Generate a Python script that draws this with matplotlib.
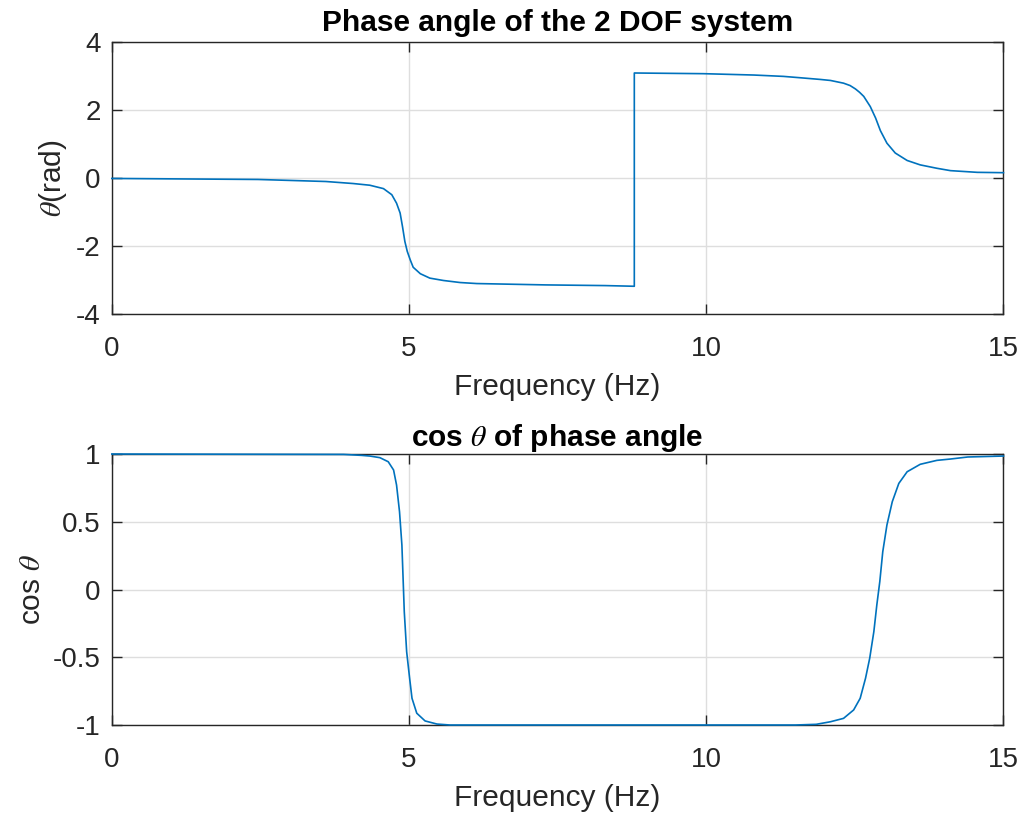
import numpy as np
import matplotlib
matplotlib.use("Agg")
import matplotlib.pyplot as plt

plt.rcParams['font.family'] = ['Liberation Sans', 'DejaVu Sans']
plt.rcParams['mathtext.fontset'] = 'stix'
plt.rcParams['axes.unicode_minus'] = False

# phase angle (Hz, rad)
freq_phase = [0, 2.46, 3.6, 4.06, 4.34, 4.57, 4.71, 4.79, 4.85, 4.89, 4.93, 4.97,
              5.02, 5.07, 5.19, 5.35, 5.58, 5.86, 6.14, 7.3, 8.3, 8.79,
              8.79, 9.95, 10.8, 11.3, 11.58, 11.92, 12.09, 12.31, 12.42, 12.51, 12.58, 12.65,
              12.76, 12.85, 12.93, 13.04, 13.18, 13.38, 13.60, 13.88, 14.11, 14.56, 15]
phase = [-0.01, -0.04, -0.10, -0.16, -0.21, -0.31, -0.49, -0.74, -1.03, -1.43, -1.87, -2.16,
         -2.41, -2.63, -2.82, -2.95, -3.02, -3.08, -3.11, -3.15, -3.17, -3.19,
         3.10, 3.08, 3.04, 3.00, 2.96, 2.91, 2.88, 2.80, 2.73, 2.63, 2.53, 2.41,
         2.11, 1.77, 1.40, 1.03, 0.74, 0.52, 0.39, 0.29, 0.22, 0.17, 0.16]

# cos theta
freq_cos = [0, 3.9, 4.2, 4.34, 4.51, 4.65, 4.74, 4.79, 4.84, 4.88, 4.90, 4.92, 4.96,
            5.01, 5.05, 5.13, 5.27, 5.47, 5.69, 11.5, 11.85, 12.09, 12.31, 12.48,
            12.59, 12.68, 12.75, 12.82, 12.87, 12.92, 12.97, 13.04, 13.13, 13.24,
            13.38, 13.60, 13.88, 14.11, 14.4, 15]
cos_vals = [1.0, 0.997, 0.99, 0.985, 0.973, 0.943, 0.882, 0.771, 0.574, 0.328, 0.083, -0.164, -0.459,
            -0.655, -0.803, -0.913, -0.970, -0.993, -1.0, -1.0, -0.995, -0.976, -0.951, -0.889,
            -0.803, -0.655, -0.508, -0.311, -0.114, 0.058, 0.279, 0.476, 0.648, 0.783,
            0.869, 0.924, 0.953, 0.963, 0.978, 0.985]

x_ticks = [0, 5, 10, 15]
phase_ticks = [-4, -2, 0, 2, 4]
cos_ticks = [-1, -0.5, 0, 0.5, 1]
cos_ticklabels = ['-1', '-0.5', '0', '0.5', '1']

line_col = '#0072BD'
ax_col = '#262626'

fig = plt.figure(figsize=(10.26, 8.17), dpi=100)
ax1 = fig.add_axes([0.109, 0.616, 0.869, 0.332])
ax2 = fig.add_axes([0.109, 0.1126, 0.869, 0.3317])


def matlab_style(ax):
    for s in ax.spines.values():
        s.set_color(ax_col)
        s.set_linewidth(1.0)
    ax.tick_params(direction='in', length=7, width=1.0, colors=ax_col,
                   top=True, right=True, labelsize=20)
    ax.tick_params(axis='x', pad=16)
    ax.tick_params(axis='y', pad=8)
    ax.grid(True, color='#dedede', linewidth=1.0)
    ax.set_axisbelow(True)


ax1.plot(freq_phase, phase, color=line_col, linewidth=1.2, zorder=3, clip_on=False)
ax1.set_xlim(0, 15)
ax1.set_ylim(-4, 4)
ax1.set_xticks(x_ticks)
ax1.set_yticks(phase_ticks)
matlab_style(ax1)
ax1.set_xlabel("Frequency (Hz)", fontsize=21.5, color=ax_col, labelpad=8)
ax1.set_ylabel(r"$\theta$(rad)", fontsize=21.5, color=ax_col, labelpad=5)
ax1.set_title("Phase angle of the 2 DOF system", fontsize=21.5, fontweight='bold', pad=8)

ax2.plot(freq_cos, cos_vals, color=line_col, linewidth=1.2, zorder=3, clip_on=False)
ax2.set_xlim(0, 15)
ax2.set_ylim(-1, 1)
ax2.set_xticks(x_ticks)
ax2.set_yticks(cos_ticks)
ax2.set_yticklabels(cos_ticklabels)
matlab_style(ax2)
ax2.set_xlabel("Frequency (Hz)", fontsize=21.5, color=ax_col, labelpad=8)
ax2.set_ylabel(r"cos $\theta$", fontsize=21.5, color=ax_col, labelpad=5)
ax2.set_title(r"cos $\theta$ of phase angle", fontsize=21.5, fontweight='bold', pad=6)

plt.savefig("out.png", dpi=100)
